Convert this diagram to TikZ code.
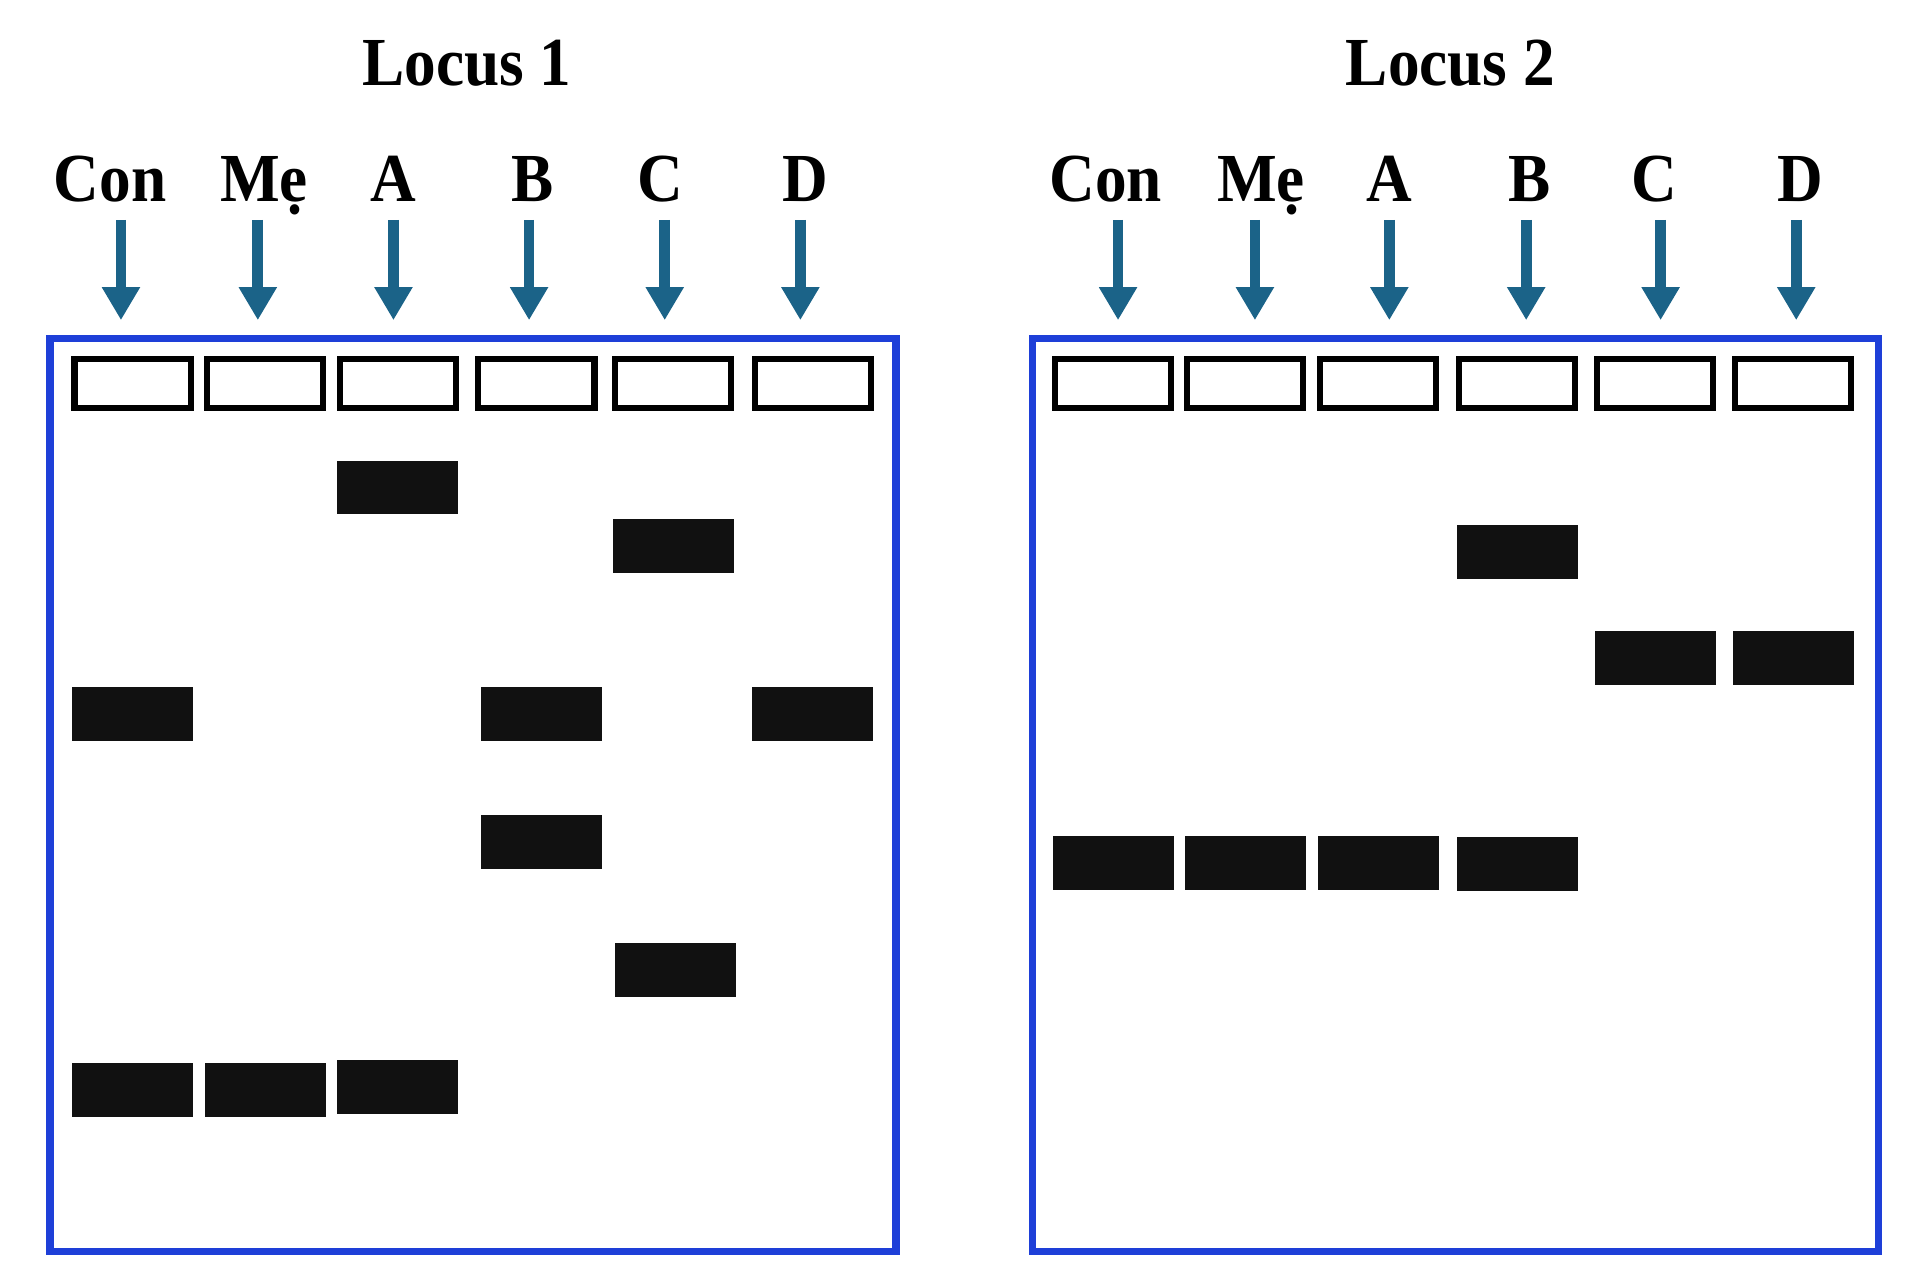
\documentclass[tikz,border=0pt]{standalone}
\usepackage{fontspec}
\setmainfont{Liberation Serif}
\newfontfamily\gelfont[FakeStretch=0.92]{Liberation Serif}
\usetikzlibrary{arrows.meta,positioning}

\definecolor{gelblue}{RGB}{30,63,216}
\definecolor{arrowteal}{RGB}{27,99,136}
\definecolor{bandblack}{RGB}{17,17,17}

\begin{document}
\begin{tikzpicture}[
		x=0.01cm, y=-0.01cm,
		arrow/.style={arrowteal, line width=2.5pt, -{Triangle[length=7.7pt,width=8.4pt]}},
		gel/.style={draw=gelblue, line width=1.7pt, minimum width=6.92cm, minimum height=7.47cm, inner sep=0pt},
		well/.style={draw=black, line width=1.4pt, minimum width=0.95cm, minimum height=0.40cm, inner sep=0pt},
		band/.style={fill=bandblack, minimum width=0.99cm, minimum height=0.44cm, inner sep=0pt},
		lane/.style={font=\gelfont\bfseries\fontsize{16}{18}\selectfont, anchor=base, inner sep=0pt},
		title/.style={font=\gelfont\bfseries\fontsize{16}{18}\selectfont, anchor=base, inner sep=0pt},
	]
		\useasboundingbox (0,0) rectangle (1568,1044);
		
		\node (titleL) [title] at (382,70) {Locus 1};
		\node (titleR) [title] at (1187,70) {Locus 2};
		
		\node (gelL) [gel] at (387,650.5) {};
		\node (gelR) [gel] at (1191,650.5) {};
		
		% lanes: name / well x / label x / arrow x / label
		\foreach \n/\w/\l/\a/\t in {L1/108.5/90/99/Con, L2/217/216/211/Mẹ, L3/325.5/322/322/A,
				L4/439/436/433/B, L5/551/540/544/C, L6/665/659/655/D,
				R1/911/905/915/Con, R2/1019/1032/1027/Mẹ, R3/1128/1137/1137/A,
				R4/1241.5/1252/1249/B, R5/1354.5/1354/1359/C, R6/1467.5/1473/1470/D}{
			\node (lbl-\n) [lane] at (\l,165) {\t};
			\node (well-\n) [well] at (\w,314) {};
			\coordinate (s-\n) at (\a,180);
			\coordinate (e-\n) at (\a,262);
			\draw[arrow] (s-\n) -- (e-\n);
		}
		
		% Locus 1 bands
		\node (bA1) [band] at (325,399) {};
		\node (bC1) [band] at (551.5,447) {};
		\node (bCon1) [band] at (108.5,584) {};
		\node (bB1) [band] at (443.5,584) {};
		\node (bD1) [band] at (665,584) {};
		\node (bB2) [band] at (443.5,689) {};
		\node (bC2) [band] at (552.5,794) {};
		\node (bCon2) [band] at (108.5,892) {};
		\node (bMe1) [band] at (217,892) {};
		\node (bA2) [band] at (325,889.5) {};
		
		% Locus 2 bands
		\node (cB1) [band] at (1241.5,452) {};
		\node (cC1) [band] at (1354.5,538.5) {};
		\node (cD1) [band] at (1467.5,538.5) {};
		\node (cCon1) [band] at (911,706) {};
		\node (cMe1) [band] at (1019,706) {};
		\node (cA1) [band] at (1128,706) {};
		\node (cB2) [band] at (1241.5,707) {};
	\end{tikzpicture}
\end{document}
